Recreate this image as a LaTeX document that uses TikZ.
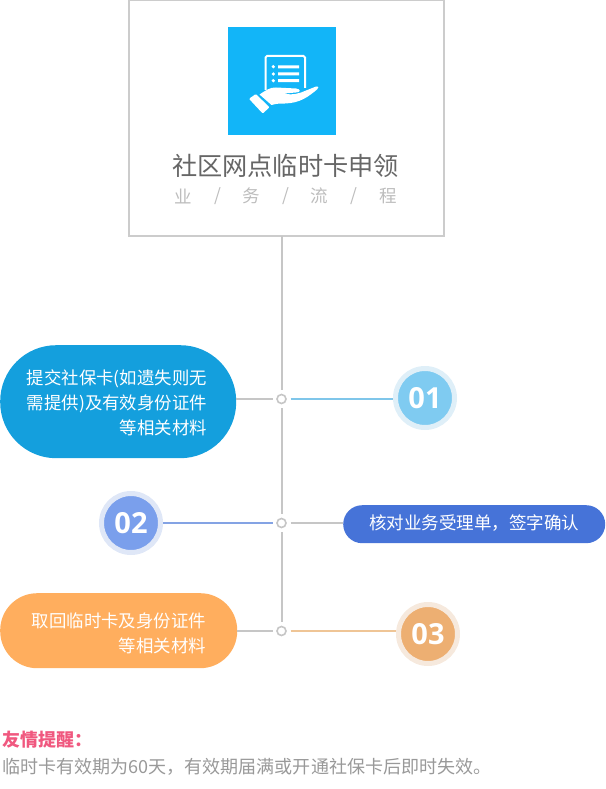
\documentclass[tikz,border=0pt]{standalone}
\usepackage{fontspec}
\setmainfont{Noto Sans CJK SC}
\newfontfamily\numfont{Open Sans}
\definecolor{boxline}{HTML}{CCCCCC}
\definecolor{iconblue}{HTML}{12B5F8}
\definecolor{titlegray}{HTML}{666666}
\definecolor{subgray}{HTML}{BDBDBD}
\definecolor{linegray}{HTML}{C6C6C6}
\definecolor{pillA}{HTML}{149FDD}
\definecolor{pillB}{HTML}{4673D8}
\definecolor{pillC}{HTML}{FFAE5E}
\definecolor{numA}{HTML}{7FCBF1}
\definecolor{ringA}{HTML}{DFEFF8}
\definecolor{numB}{HTML}{7A9FEC}
\definecolor{ringB}{HTML}{DFE7F7}
\definecolor{numC}{HTML}{EDAF72}
\definecolor{ringC}{HTML}{F6E9DD}
\definecolor{lineA}{HTML}{7FC6EA}
\definecolor{lineB}{HTML}{84A3E4}
\definecolor{lineC}{HTML}{EFC596}
\definecolor{notepink}{HTML}{F0587F}
\definecolor{notegray}{HTML}{999999}
\tikzset{
  x=1pt,y=-1pt,
  px/.style={font=\fontsize{#1}{#1}\selectfont},
  pilltext/.style={text=white,inner sep=0pt,align=right,anchor=east,font=\fontsize{17.4}{25}\selectfont},
  dotnode/.style={circle,draw=linegray,line width=1.6pt,fill=white,minimum size=9pt,inner sep=0pt,outer sep=4.5pt},
  numnode/.style n args={2}{circle,fill=#1,draw=#2,line width=5pt,minimum size=59pt,inner sep=0pt,text=white,font=\numfont\bfseries\fontsize{29}{29}\selectfont},
  conn/.style={line width=2pt,draw=linegray},
}
\begin{document}
\begin{tikzpicture}
\useasboundingbox (0,0) rectangle (605,789);
% header box
\node (header) [draw=boxline,line width=2pt,fill=white,minimum width=315pt,minimum height=235.5pt,inner sep=0pt,anchor=north west,outer sep=0pt] at (129,0.5) {};
\node (iconbox) [fill=iconblue,minimum width=108pt,minimum height=108pt,inner sep=0pt,anchor=north west] at (228,27) {};
% icon
\draw[white,line width=2pt,rounded corners=1.5pt] (265.5,90) -- (265.5,56) -- (305,56) -- (305,88);
\fill[white] (273.3,66.7) circle (1.8) (273.3,74) circle (1.8) (273.3,80.7) circle (1.8);
\fill[white] (278,65.3) rectangle (299,68.3) (278,72.5) rectangle (299,75.5) (278,79.2) rectangle (299,82.2);
\fill[white,rounded corners=1pt] (249,98.8) -- (255.8,94) -- (269.5,107.3) -- (262.7,113.5) -- cycle;
\fill[white] (259.5,94.5) .. controls (265,91) and (270,87) .. (276,87.5)
  -- (296,88.5) .. controls (301,89) and (301,92.5) .. (296,92.5)
  -- (284,93.5) .. controls (292,95.5) and (300,93.5) .. (306,90.5)
  -- (316,86.5) .. controls (319,86) and (319,88) .. (317,89.5)
  .. controls (308,97) and (300,103) .. (285,103.5)
  .. controls (280,103.5) and (277,103.5) .. (271.5,105) -- cycle;
% titles
\node (title) [px=25.2,text=titlegray,inner sep=0pt] at (285.5,166) {社区网点临时卡申领};
\node (sa) [px=17.5,text=subgray,inner sep=0pt] at (183.5,196) {业};
\node (sb) [px=17.5,text=subgray,inner sep=0pt] at (217.5,196) {/};
\node (sc) [px=17.5,text=subgray,inner sep=0pt] at (251.5,196) {务};
\node (sd) [px=17.5,text=subgray,inner sep=0pt] at (285.5,196) {/};
\node (se) [px=17.5,text=subgray,inner sep=0pt] at (319.5,196) {流};
\node (sf) [px=17.5,text=subgray,inner sep=0pt] at (353.5,196) {/};
\node (sg) [px=17.5,text=subgray,inner sep=0pt] at (388,196) {程};
% junction dots
\node (d1) [dotnode] at (281.5,399) {};
\node (d2) [dotnode] at (281.5,523) {};
\node (d3) [dotnode] at (281.5,631) {};
% pills
\node (p1) [fill=pillA,rounded corners=56pt,minimum width=236pt,minimum height=113pt,inner sep=0pt,anchor=north west] at (0,345) {};
\node (p2) [fill=pillB,rounded corners=19pt,minimum width=262pt,minimum height=38pt,inner sep=0pt,anchor=north west] at (343,505) {};
\node (p3) [fill=pillC,rounded corners=37pt,minimum width=237pt,minimum height=75pt,inner sep=0pt,anchor=north west] at (0,593) {};
\node (t1) [pilltext] at (207,403) {提交社保卡(如遗失则无\\需提供)及有效身份证件\\等相关材料};
\node (t2) [text=white,inner sep=0pt,px=17.5] at (474,523.5) {核对业务受理单，签字确认};
\node (t3) [pilltext] at (206,633) {取回临时卡及身份证件\\等相关材料};
% number badges
\node (n1) [numnode={numA}{ringA}] at (425,398) {01};
\node (n2) [numnode={numB}{ringB}] at (131,523) {02};
\node (n3) [numnode={numC}{ringC}] at (428,634) {03};
% connectors
\draw[conn] (d1 |- header.south) -- (d1.north);
\draw[conn] (d1.south) -- (d2.north);
\draw[conn] (d2.south) -- (d3.north);
\draw[conn] (d1.west) -- (d1.west -| p1.east);
\draw[conn,draw=lineA] (d1.east) -- (d1.east -| n1.west);
\draw[conn,draw=lineB] (d2.west) -- (d2.west -| n2.east);
\draw[conn] (d2.east) -- (d2.east -| p2.west);
\draw[conn] (d3.west) -- (d3.west -| p3.east);
\draw[conn,draw=lineC] (d3.east) -- (d3.east -| n3.west);
% note
\node (noteh) [font=\bfseries\fontsize{18}{18}\selectfont,text=notepink,inner sep=0pt,anchor=west] at (2,740) {友情提醒：};
\node (noteb) [px=18.05,text=notegray,inner sep=0pt,anchor=west] at (2,767) {临时卡有效期为60天，有效期届满或开通社保卡后即时失效。};
\end{tikzpicture}
\end{document}
